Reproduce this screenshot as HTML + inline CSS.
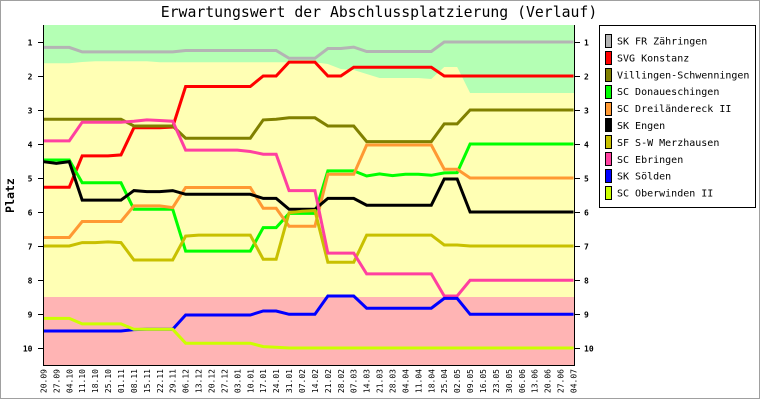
<!DOCTYPE html>
<html><head><meta charset="utf-8"><style>
html,body{margin:0;padding:0;background:#fff;}
svg{display:block;}
.t{font-family:"DejaVu Sans Mono","Liberation Mono",monospace;}
</style></head><body>
<svg width="760" height="400" viewBox="0 0 760 400" xmlns="http://www.w3.org/2000/svg">
<rect x="0" y="0" width="760" height="400" fill="#fff"/>
<rect x="0.5" y="0.5" width="759" height="398" fill="none" stroke="#a0a0a0" stroke-width="1"/>
<text class="t" x="379" y="17" font-size="14.8" text-anchor="middle" fill="#000">Erwartungswert der Abschlussplatzierung (Verlauf)</text>
<!-- backgrounds -->
<rect x="44" y="25" width="530" height="272" fill="#ffffb4"/>
<polygon fill="#b4ffb4" points="44,25 574,25 574,93 470.09,93 457.16,67 444.23,67 431.3,79 418.37,78 379.58,78 366.65,74 353.72,70 340.79,69 327.86,64 314.93,62.3 159.77,62.3 146.84,61.3 95.12,61.3 82.19,62 69.26,63.3 44,63.3"/>
<rect x="44" y="297" width="530" height="68" fill="#ffb4b4"/>
<!-- series -->
<g fill="none" stroke-width="3" stroke-linejoin="miter">
<polyline stroke="#b4b4b4" points="43.4,47.4 69.26,47.4 82.19,51.9 172.7,51.9 185.63,50.5 276.14,50.5 289.07,58.3 314.93,58.3 327.86,48.5 340.79,48.5 353.72,47.1 366.65,51.5 431.3,51.5 444.23,42 573.53,42"/>
<polyline stroke="#ff0000" points="43.4,187.2 69.26,187.2 82.19,155.9 108.05,155.9 120.98,154.9 133.91,127.7 159.77,127.7 172.7,127 185.63,86.5 250.28,86.5 263.21,76 276.14,76 289.07,62.1 314.93,62.1 327.86,76 340.79,76 353.72,67.2 431.3,67.2 444.23,76 573.53,76"/>
<polyline stroke="#808000" points="43.4,119.2 120.98,119.2 133.91,126 172.7,126 185.63,138.2 250.28,138.2 263.21,119.9 276.14,119.2 289.07,117.8 314.93,117.8 327.86,126 353.72,126 366.65,141.6 431.3,141.6 444.23,123.9 457.16,123.9 470.09,110 573.53,110"/>
<polyline stroke="#00ff00" points="43.4,160 69.26,160 82.19,182.8 120.98,182.8 133.91,209.3 172.7,209.3 185.63,251.1 250.28,251.1 263.21,227.6 276.14,227.6 289.07,213.4 314.93,213.4 327.86,170.9 353.72,170.9 366.65,176 379.58,173.9 392.51,175.6 405.44,174.3 418.37,174.3 431.3,175.3 444.23,172.9 457.16,172.6 470.09,144 573.53,144"/>
<polyline stroke="#ff9933" points="43.4,237.5 69.26,237.5 82.19,221.5 120.98,221.5 133.91,205.9 159.77,205.9 172.7,207.6 185.63,187.5 250.28,187.5 263.21,208.3 276.14,208.3 289.07,226.3 314.93,226.3 327.86,174.3 353.72,174.3 366.65,145 431.3,145 444.23,169.2 457.16,169.2 470.09,178 573.53,178"/>
<polyline stroke="#000000" points="43.4,161.7 56.33,163.4 69.26,161.7 82.19,200.1 120.98,200.1 133.91,190.6 146.84,191.6 159.77,191.6 172.7,190.6 185.63,194.3 250.28,194.3 263.21,198.4 276.14,198.4 289.07,209.3 314.93,209.3 327.86,198.4 353.72,198.4 366.65,205.2 431.3,205.2 444.23,179 457.16,179 470.09,212 573.53,212"/>
<polyline stroke="#c8c000" points="43.4,246 69.26,246 82.19,242.6 95.12,242.6 108.05,241.9 120.98,242.6 133.91,260 172.7,260 185.63,236.1 198.56,235.1 250.28,235.1 263.21,259.3 276.14,259.3 289.07,212.7 302,211.3 314.93,210.6 327.86,262.3 353.72,262.3 366.65,235.1 431.3,235.1 444.23,245 457.16,245 470.09,246 573.53,246"/>
<polyline stroke="#ff40a0" points="43.4,140.9 69.26,140.9 82.19,122.2 120.98,122.2 133.91,121.2 146.84,119.9 159.77,120.5 172.7,121.2 185.63,150.1 237.35,150.1 250.28,151.5 263.21,154.2 276.14,154.2 289.07,190.6 314.93,190.6 327.86,253.1 353.72,253.1 366.65,273.9 431.3,273.9 444.23,296 457.16,296 470.09,280.3 573.53,280.3"/>
<polyline stroke="#0000ff" points="43.4,331 120.98,331 133.91,329.6 146.84,329.3 172.7,329.3 185.63,315 250.28,315 263.21,311 276.14,311 289.07,314.3 314.93,314.3 327.86,296 353.72,296 366.65,308.2 431.3,308.2 444.23,298.4 457.16,298.4 470.09,314.3 573.53,314.3"/>
<polyline stroke="#ccff00" points="43.4,318.4 69.26,318.4 82.19,323.9 120.98,323.9 133.91,329.3 172.7,329.3 185.63,343.2 250.28,343.2 263.21,346.6 276.14,347.3 289.07,348 573.53,348"/>
</g>
<!-- axes -->
<g stroke="#000" stroke-width="1" shape-rendering="crispEdges">
<line x1="43.5" y1="25" x2="43.5" y2="366"/>
<line x1="574.5" y1="25" x2="574.5" y2="366"/>
<line x1="43" y1="365.5" x2="575" y2="365.5"/>
<line x1="38" y1="42.5" x2="43" y2="42.5"/><line x1="575" y1="42.5" x2="580" y2="42.5"/>
<line x1="38" y1="76.5" x2="43" y2="76.5"/><line x1="575" y1="76.5" x2="580" y2="76.5"/>
<line x1="38" y1="110.5" x2="43" y2="110.5"/><line x1="575" y1="110.5" x2="580" y2="110.5"/>
<line x1="38" y1="144.5" x2="43" y2="144.5"/><line x1="575" y1="144.5" x2="580" y2="144.5"/>
<line x1="38" y1="178.5" x2="43" y2="178.5"/><line x1="575" y1="178.5" x2="580" y2="178.5"/>
<line x1="38" y1="212.5" x2="43" y2="212.5"/><line x1="575" y1="212.5" x2="580" y2="212.5"/>
<line x1="38" y1="246.5" x2="43" y2="246.5"/><line x1="575" y1="246.5" x2="580" y2="246.5"/>
<line x1="38" y1="280.5" x2="43" y2="280.5"/><line x1="575" y1="280.5" x2="580" y2="280.5"/>
<line x1="38" y1="314.5" x2="43" y2="314.5"/><line x1="575" y1="314.5" x2="580" y2="314.5"/>
<line x1="38" y1="348.5" x2="43" y2="348.5"/><line x1="575" y1="348.5" x2="580" y2="348.5"/>
</g>
<g class="t" font-size="8" font-weight="bold" fill="#000" text-anchor="end">
<text x="32.5" y="45.5">1</text><text x="32.5" y="79.5">2</text><text x="32.5" y="113.5">3</text><text x="32.5" y="147.5">4</text><text x="32.5" y="181.5">5</text><text x="32.5" y="215.5">6</text><text x="32.5" y="249.5">7</text><text x="32.5" y="283.5">8</text><text x="32.5" y="317.5">9</text><text x="32.5" y="351.5">10</text>
</g>
<g class="t" font-size="8" font-weight="bold" fill="#000">
<text x="584" y="45.5">1</text><text x="584" y="79.5">2</text><text x="584" y="113.5">3</text><text x="584" y="147.5">4</text><text x="584" y="181.5">5</text><text x="584" y="215.5">6</text><text x="584" y="249.5">7</text><text x="584" y="283.5">8</text><text x="584" y="317.5">9</text><text x="584" y="351.5">10</text>
</g>
<text class="t" font-size="11.5" font-weight="bold" fill="#000" text-anchor="middle" transform="translate(14,195.5) rotate(-90)">Platz</text>
<!-- x labels -->
<g class="t" font-size="8" fill="#000" text-anchor="end">
<text transform="translate(46.4,369) rotate(-90)">20.09</text>
<text transform="translate(59.33,369) rotate(-90)">27.09</text>
<text transform="translate(72.26,369) rotate(-90)">04.10</text>
<text transform="translate(85.19,369) rotate(-90)">11.10</text>
<text transform="translate(98.12,369) rotate(-90)">18.10</text>
<text transform="translate(111.05,369) rotate(-90)">25.10</text>
<text transform="translate(123.98,369) rotate(-90)">01.11</text>
<text transform="translate(136.91,369) rotate(-90)">08.11</text>
<text transform="translate(149.84,369) rotate(-90)">15.11</text>
<text transform="translate(162.77,369) rotate(-90)">22.11</text>
<text transform="translate(175.7,369) rotate(-90)">29.11</text>
<text transform="translate(188.63,369) rotate(-90)">06.12</text>
<text transform="translate(201.56,369) rotate(-90)">13.12</text>
<text transform="translate(214.49,369) rotate(-90)">20.12</text>
<text transform="translate(227.42,369) rotate(-90)">27.12</text>
<text transform="translate(240.35,369) rotate(-90)">03.01</text>
<text transform="translate(253.28,369) rotate(-90)">10.01</text>
<text transform="translate(266.21,369) rotate(-90)">17.01</text>
<text transform="translate(279.14,369) rotate(-90)">24.01</text>
<text transform="translate(292.07,369) rotate(-90)">31.01</text>
<text transform="translate(305,369) rotate(-90)">07.02</text>
<text transform="translate(317.93,369) rotate(-90)">14.02</text>
<text transform="translate(330.86,369) rotate(-90)">21.02</text>
<text transform="translate(343.79,369) rotate(-90)">28.02</text>
<text transform="translate(356.72,369) rotate(-90)">07.03</text>
<text transform="translate(369.65,369) rotate(-90)">14.03</text>
<text transform="translate(382.58,369) rotate(-90)">21.03</text>
<text transform="translate(395.51,369) rotate(-90)">28.03</text>
<text transform="translate(408.44,369) rotate(-90)">04.04</text>
<text transform="translate(421.37,369) rotate(-90)">11.04</text>
<text transform="translate(434.3,369) rotate(-90)">18.04</text>
<text transform="translate(447.23,369) rotate(-90)">25.04</text>
<text transform="translate(460.16,369) rotate(-90)">02.05</text>
<text transform="translate(473.09,369) rotate(-90)">09.05</text>
<text transform="translate(486.02,369) rotate(-90)">16.05</text>
<text transform="translate(498.95,369) rotate(-90)">23.05</text>
<text transform="translate(511.88,369) rotate(-90)">30.05</text>
<text transform="translate(524.81,369) rotate(-90)">06.06</text>
<text transform="translate(537.74,369) rotate(-90)">13.06</text>
<text transform="translate(550.67,369) rotate(-90)">20.06</text>
<text transform="translate(563.6,369) rotate(-90)">27.06</text>
<text transform="translate(576.53,369) rotate(-90)">04.07</text>
</g>
<!-- legend -->
<rect x="599.5" y="25.5" width="156" height="182" fill="#fff" stroke="#000" stroke-width="1" shape-rendering="crispEdges"/>
<g stroke="#000" stroke-width="1" shape-rendering="crispEdges">
<rect x="605.5" y="34.5" width="6" height="13" fill="#b4b4b4"/>
<rect x="605.5" y="51.5" width="6" height="13" fill="#ff0000"/>
<rect x="605.5" y="68.5" width="6" height="13" fill="#808000"/>
<rect x="605.5" y="85.5" width="6" height="13" fill="#00ff00"/>
<rect x="605.5" y="102.5" width="6" height="13" fill="#ff9933"/>
<rect x="605.5" y="118.5" width="6" height="13" fill="#000000"/>
<rect x="605.5" y="135.5" width="6" height="13" fill="#c8c000"/>
<rect x="605.5" y="152.5" width="6" height="13" fill="#ff40a0"/>
<rect x="605.5" y="169.5" width="6" height="13" fill="#0000ff"/>
<rect x="605.5" y="186.5" width="6" height="13" fill="#ccff00"/>
</g>
<g class="t" font-size="10" fill="#000">
<text x="617" y="44.5">SK FR Zähringen</text>
<text x="617" y="61.4">SVG Konstanz</text>
<text x="617" y="78.3">Villingen-Schwenningen</text>
<text x="617" y="95.2">SC Donaueschingen</text>
<text x="617" y="112.1">SC Dreiländereck II</text>
<text x="617" y="129">SK Engen</text>
<text x="617" y="145.9">SF S-W Merzhausen</text>
<text x="617" y="162.8">SC Ebringen</text>
<text x="617" y="179.7">SK Sölden</text>
<text x="617" y="196.6">SC Oberwinden II</text>
</g>
</svg>
</body></html>
